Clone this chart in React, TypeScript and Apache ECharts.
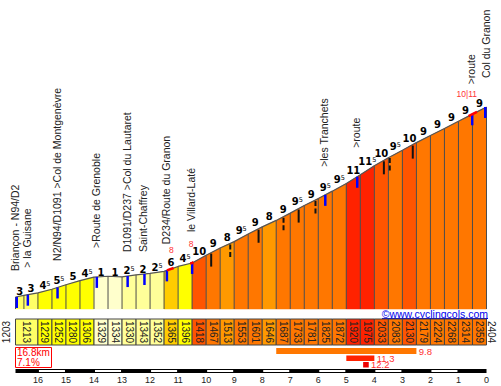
import React, { useEffect, useRef } from "react";
import * as echarts from "echarts";

// ---------- data ----------
const distances = [16.8, 16.5, 16.0, 15.5, 15.0, 14.5, 14.0, 13.5, 13.0, 12.5, 12.0, 11.5, 11.0, 10.5, 10.0, 9.5, 9.0, 8.5, 8.0, 7.5, 7.0, 6.5, 6.0, 5.5, 5.0, 4.5, 4.0, 3.5, 3.0, 2.5, 2.0, 1.5, 1.0, 0.5, 0.0];
const altitudes = [1203, 1213, 1229, 1252, 1280, 1306, 1329, 1334, 1330, 1343, 1352, 1365, 1396, 1418, 1467, 1513, 1553, 1601, 1646, 1687, 1733, 1781, 1825, 1872, 1920, 1975, 2033, 2083, 2130, 2179, 2224, 2268, 2314, 2359, 2404];
const gradientLabels = ["3", "3", "4.5", "5.5", "5", "4.5", "1", "1", "2.5", "2", "2.5", "6", "4.5", "10", "9", "8", "9.5", "9", "8", "9", "9.5", "9", "9.5", "9.5", "11", "11.5", "10", "9.5", "10", "9", "9", "9", "9", "9"];
const kmTicks = [16, 15, 14, 13, 12, 11, 10, 9, 8, 7, 6, 5, 4, 3, 2, 1, 0];

const placeKm = [16.8, 16.36, 15.3, 13.9, 12.8, 12.2, 11.4, 10.5, 5.75, 4.61, 0.51, 0];
const placeNames = [
  "Briançon - N94/D2",
  "> la Guisane",
  "N2/N94/D1091 >Col de Montgenèvre",
  ">Route de Grenoble",
  "D1091/D237 >Col du Lautaret",
  "Saint-Chaffrey",
  "D234/Route du Granon",
  "le Villard-Laté",
  ">les Tranchets",
  ">route",
  ">route",
  "Col du Granon",
];
const hairpinKm = [9.82, 9.14, 8.13, 7.24, 6.7, 6.1, 3.66, 3.45, 2.63];
const hairpinDashed = [false, true, false, true, false, true, false, true, false];

const steepFromKm = [11.4, 10.57, 0.64];
const steepToKm = [11.16, 10.45, 0.34];
const steepLabels = ["8", "8", "10|11"];

const maxFromKm = [7.5, 5.0, 4.4];
const maxToKm = [2.5, 4.0, 4.2];
const maxValues = ["9.8", "11.3", "12.2"];

const climbLength = "16.8km";
const climbGrade = "7.1%";
const siteText = "©www.cyclingcols.com";

// ---------- style ----------
const Y_MIN = 1127;
const Y_MAX = 2404;
const placeOffsets = [26, 27, 26.5, 29, 24, 22, 26, 31, 28, 29, 30, 29];
const maxColors = ["#FF7700", "#FF2200", "#EE0000"];
const maxRows = [
  [39, 6],
  [46.5, 5.5],
  [53, 5.5],
];
const SANS = "Liberation Sans, Arial, sans-serif";

function gradeColor(g: number) {
  if (g >= 11) return "#FF2200";
  if (g >= 9.75) return "#FF5500";
  if (g >= 8.5) return "#FF7700";
  if (g >= 7.5) return "#FF9900";
  if (g >= 5.75) return "#FFCC00";
  if (g >= 4) return "#FFFF00";
  if (g >= 2.75) return "#FFFF66";
  if (g >= 1.5) return "#FFFF99";
  return "#FFFFCC";
}
function segGrade(i: number) {
  return (altitudes[i + 1] - altitudes[i]) / ((distances[i] - distances[i + 1]) * 10);
}
function altAt(km: number) {
  for (let i = 0; i < distances.length - 1; i++) {
    if (km <= distances[i] && km >= distances[i + 1]) {
      const t = (distances[i] - km) / (distances[i] - distances[i + 1]);
      return altitudes[i] + t * (altitudes[i + 1] - altitudes[i]);
    }
  }
  return altitudes[altitudes.length - 1];
}

const segData = distances.slice(0, -1).map((d, i) => [d, altitudes[i], distances[i + 1], altitudes[i + 1], i]);

function buildOption(): any {
  const nSeg = distances.length - 1;
  return {
    animation: false,
    backgroundColor: "#ffffff",
    grid: { left: 15.5, right: 14.5, top: 107, bottom: 77 },
    xAxis: { type: "value", min: 0, max: 16.8, inverse: true, show: false },
    yAxis: { type: "value", min: Y_MIN, max: Y_MAX, show: false },
    graphic: [
      {
        type: "text",
        x: 488,
        y: 314,
        style: { text: siteText, fill: "#0000EE", font: `10.5px ${SANS}`, align: "right", verticalAlign: "middle" },
      },
      { type: "line", shape: { x1: 382, y1: 318.5, x2: 488, y2: 318.5 }, style: { stroke: "#0000EE", lineWidth: 1 } },
      { type: "rect", shape: { x: 15.5, y: 347.5, width: 36, height: 20 }, style: { fill: "none", stroke: "#FF0000", lineWidth: 1 } },
      { type: "text", x: 17, y: 352.5, style: { text: climbLength, fill: "#FF0000", font: `10px ${SANS}`, lineHeight: 10, align: "left", verticalAlign: "middle" } },
      { type: "text", x: 17, y: 362.5, style: { text: climbGrade, fill: "#FF0000", font: `10px ${SANS}`, lineHeight: 10, align: "left", verticalAlign: "middle" } },
    ],
    series: [
      // profile segments
      {
        type: "custom",
        z: 2,
        silent: true,
        data: segData,
        encode: { x: [0, 2], y: [1, 3] },
        renderItem: (params: any, api: any) => {
          const i = api.value(4);
          const d0 = api.value(0), a0 = api.value(1), d1 = api.value(2), a1 = api.value(3);
          const p0 = api.coord([d0, a0]);
          const p1 = api.coord([d1, a1]);
          const b0 = api.coord([d0, Y_MIN]);
          const b1 = api.coord([d1, Y_MIN]);
          const col = gradeColor(segGrade(i));
          const children: any[] = [
            { type: "polygon", shape: { points: [b0, p0, p1, b1] }, style: { fill: col, stroke: col, lineWidth: 0.5 } },
            { type: "line", shape: { x1: b0[0], y1: b0[1], x2: p0[0], y2: p0[1] }, style: { stroke: "#4d4d4d", lineWidth: 1 } },
          ];
          if (i === nSeg - 1) {
            children.push({ type: "line", shape: { x1: b1[0], y1: b1[1], x2: p1[0], y2: p1[1] }, style: { stroke: "#4d4d4d", lineWidth: 1 } });
          }
          return { type: "group", children };
        },
      },
      // outline
      {
        type: "line",
        z: 3,
        silent: true,
        symbol: "none",
        data: distances.map((d, i) => [d, altitudes[i]]),
        lineStyle: { color: "#555555", width: 1.2 },
      },
      // gradient labels
      {
        type: "custom",
        z: 6,
        silent: true,
        data: segData,
        encode: { x: [0, 2], y: [1, 3] },
        renderItem: (params: any, api: any) => {
          const i = api.value(4);
          const p0 = api.coord([api.value(0), api.value(1)]);
          const p1 = api.coord([api.value(2), api.value(3)]);
          const parts = gradientLabels[i].split(".");
          const txt = parts.length > 1 ? `{n|${parts[0]}}{s|${parts[1]}}` : `{n|${parts[0]}}`;
          return {
            type: "text",
            x: (p0[0] + p1[0]) / 2,
            y: p1[1] + 1,
            style: {
              text: txt,
              align: "center",
              verticalAlign: "bottom",
              rich: {
                n: { fontFamily: "DejaVu Sans", fontWeight: "bold", fontSize: 10, lineHeight: 10, fill: "#000" },
                s: { fontFamily: "DejaVu Sans", fontSize: 6.5, lineHeight: 6, verticalAlign: "top", fill: "#000" },
              },
            },
          };
        },
      },
      // hairpin / junction markers
      {
        type: "custom",
        z: 5,
        silent: true,
        data: [
          ...placeKm.map((k, i) => [k, altAt(k), 0, i]),
          ...hairpinKm.map((k, i) => [k, altAt(k), 1, i]),
        ],
        encode: { x: 0, y: 1 },
        renderItem: (params: any, api: any) => {
          const km = api.value(0);
          const kind = api.value(2);
          const idx = api.value(3);
          const p = api.coord([km, api.value(1)]);
          if (kind === 0) {
            let x0 = p[0] - 1.25;
            if (km >= 16.8) x0 = p[0];
            if (km <= 0) x0 = p[0] - 2.5;
            return { type: "rect", shape: { x: x0, y: p[1], width: 2.5, height: 11 }, style: { fill: "#0000FF" } };
          }
          return {
            type: "line",
            shape: { x1: p[0], y1: p[1] + 1, x2: p[0], y2: p[1] + 14 },
            style: { stroke: "#111", lineWidth: 2, lineDash: hairpinDashed[idx] ? [5, 2.5] : null },
          };
        },
      },
      // place labels
      {
        type: "custom",
        z: 6,
        silent: true,
        data: placeKm.map((k, i) => [k, altAt(k), i]),
        encode: { x: 0, y: 1 },
        renderItem: (params: any, api: any) => {
          const i = api.value(2);
          const p = api.coord([api.value(0), api.value(1)]);
          return {
            type: "text",
            x: p[0] - 1,
            y: p[1] - placeOffsets[i],
            rotation: Math.PI / 2,
            style: { text: placeNames[i], fill: "#222", font: `10.5px ${SANS}`, align: "left", verticalAlign: "middle" },
          };
        },
      },
      // steep sections
      {
        type: "custom",
        z: 5,
        silent: true,
        data: steepFromKm.map((k, i) => [k, altAt(k), steepToKm[i], altAt(steepToKm[i]), i]),
        encode: { x: [0, 2], y: [1, 3] },
        renderItem: (params: any, api: any) => {
          const i = api.value(4);
          const from = api.value(0), to = api.value(2);
          const pts: number[][] = [api.coord([from, api.value(1)])];
          distances.forEach((d, j) => {
            if (d < from && d > to) pts.push(api.coord([d, altitudes[j]]));
          });
          const pe = api.coord([to, api.value(3)]);
          pts.push(pe);
          return {
            type: "group",
            children: [
              { type: "polyline", shape: { points: pts }, style: { stroke: "#FF0000", lineWidth: 2.5, fill: null } },
              {
                type: "text",
                x: pe[0],
                y: pe[1] - 18,
                style: { text: steepLabels[i], fill: "#FF3333", font: `8.5px ${SANS}`, lineHeight: 9, align: "right", verticalAlign: "middle" },
              },
            ],
          };
        },
      },
      // altitude row
      {
        type: "custom",
        z: 4,
        silent: true,
        data: distances.map((d, i) => [d, Y_MIN, i]),
        encode: { x: 0, y: 1 },
        renderItem: (params: any, api: any) => {
          const i = api.value(2);
          const base = api.coord([0, Y_MIN])[1];
          const top = base + 10;
          const h = 26;
          const cy = top + h / 2;
          const p = api.coord([distances[i], Y_MIN]);
          if (i === 0) {
            return {
              type: "text",
              x: p[0] - 9.5,
              y: cy,
              rotation: Math.PI / 2,
              style: { text: String(altitudes[i]), fill: "#222", font: `10px ${SANS}`, align: "center", verticalAlign: "middle" },
            };
          }
          if (i === distances.length - 1) {
            return {
              type: "text",
              x: p[0] + 4.5,
              y: cy,
              rotation: -Math.PI / 2,
              style: { text: String(altitudes[i]), fill: "#222", font: `10px ${SANS}`, align: "center", verticalAlign: "middle" },
            };
          }
          const xs = api.coord([distances[i === 1 ? 0 : i], Y_MIN])[0];
          const xe = api.coord([distances[i + 1], Y_MIN])[0];
          return {
            type: "group",
            children: [
              { type: "rect", shape: { x: xs, y: top, width: xe - xs, height: h }, style: { fill: gradeColor(segGrade(i)), stroke: "#444", lineWidth: 1 } },
              {
                type: "text",
                x: (xs + xe) / 2,
                y: cy,
                rotation: -Math.PI / 2,
                style: { text: String(altitudes[i]), fill: "#222", font: `10px ${SANS}`, align: "center", verticalAlign: "middle" },
              },
            ],
          };
        },
      },
      // max gradient bars
      {
        type: "custom",
        z: 4,
        silent: true,
        data: maxFromKm.map((k, i) => [k, Y_MIN, maxToKm[i], Y_MIN, i]),
        encode: { x: [0, 2], y: [1, 3] },
        renderItem: (params: any, api: any) => {
          const i = api.value(4);
          const base = api.coord([0, Y_MIN])[1];
          const xs = api.coord([api.value(0), Y_MIN])[0];
          const xe = api.coord([api.value(2), Y_MIN])[0];
          const [oy, h] = maxRows[i];
          return {
            type: "group",
            children: [
              { type: "rect", shape: { x: xs, y: base + oy, width: xe - xs, height: h }, style: { fill: maxColors[i] } },
              {
                type: "text",
                x: xe + 2.3,
                y: base + oy + h / 2,
                style: { text: maxValues[i], fill: "#FF3030", font: `9.5px ${SANS}`, lineHeight: 7, align: "left", verticalAlign: "middle" },
              },
            ],
          };
        },
      },
      // distance ruler
      {
        type: "custom",
        z: 4,
        silent: true,
        data: kmTicks.map((k, i) => [k, Y_MIN, i]),
        encode: { x: 0, y: 1 },
        renderItem: (params: any, api: any) => {
          const i = api.value(2);
          const k = api.value(0);
          const base = api.coord([0, Y_MIN])[1];
          const barY = base + 60;
          const x = api.coord([k, Y_MIN])[0];
          const children: any[] = [];
          if (i === 0) {
            const xs = api.coord([distances[0], Y_MIN])[0];
            const xe = api.coord([0, Y_MIN])[0];
            children.push({ type: "rect", shape: { x: xs, y: barY, width: xe - xs, height: 4 }, style: { fill: "#000" } });
          }
          if (k > 0 && k % 2 === 0) {
            const xe = api.coord([k - 1, Y_MIN])[0];
            children.push({ type: "rect", shape: { x: x + 1, y: barY + 1, width: xe - x - 2, height: 2 }, style: { fill: "#fff" } });
          }
          children.push({
            type: "text",
            x: x,
            y: base + 71,
            style: { text: String(k), fill: "#222", font: `9px ${SANS}`, align: "center", verticalAlign: "middle" },
          });
          return { type: "group", children };
        },
      },
    ],
  };
}

export default function App() {
  const ref = useRef<HTMLDivElement>(null);
  useEffect(() => {
    if (!ref.current) return;
    const chart = echarts.init(ref.current, undefined, { renderer: "svg" });
    chart.setOption(buildOption());
    return () => chart.dispose();
  }, []);
  return (
    <div
      ref={ref}
      style={{ position: "absolute", left: 0, top: 0, width: 501, height: 386, background: "#fff" }}
    />
  );
}
